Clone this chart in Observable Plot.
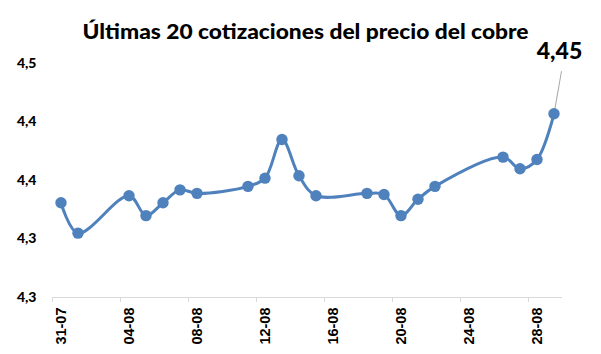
<!DOCTYPE html>
<html>
<head>
<meta charset="utf-8">
<script src="https://cdn.jsdelivr.net/npm/d3@7"></script>
<script src="https://cdn.jsdelivr.net/npm/@observablehq/plot@0.6"></script>
<style>
  html, body { margin: 0; padding: 0; background: #ffffff; }
</style>
</head>
<body>
<div id="chart"></div>
<script>
// Fechas de cotización (dd-mm) y precios
const fechas = ["2025-07-31","2025-08-01","2025-08-04","2025-08-05","2025-08-06","2025-08-07","2025-08-08",
  "2025-08-11","2025-08-12","2025-08-13","2025-08-14","2025-08-15","2025-08-18","2025-08-19","2025-08-20",
  "2025-08-21","2025-08-22","2025-08-26","2025-08-27","2025-08-28","2025-08-29"];
const precios = [4.331, 4.305, 4.337, 4.320, 4.331, 4.342, 4.339,
  4.345, 4.352, 4.385, 4.354, 4.337, 4.339, 4.338, 4.320,
  4.334, 4.345, 4.370, 4.360, 4.368, 4.407];

// Etiquetas de ejes
const etiquetasX = ["2025-07-31","2025-08-04","2025-08-08","2025-08-12","2025-08-16","2025-08-20","2025-08-24","2025-08-28"];
const ticksY = [4.25, 4.30, 4.35, 4.40, 4.45];
const etiquetasY = ["4,3", "4,3", "4,4", "4,4", "4,5"];
const titulo = "Últimas 20 cotizaciones del precio del cobre";
const etiquetaUltimo = "4,45";

const data = fechas.map((f, i) => ({fecha: new Date(f + "T00:00Z"), precio: precios[i]}));
const ultimo = [data[data.length - 1]];
const fechasEtiquetas = etiquetasX.map(d => new Date(d + "T00:00Z"));
const limitesTicks = fechasEtiquetas.map(d => d3.utcHour.offset(d, -12));
const dominioX = [d3.utcHour.offset(data[0].fecha, -12), d3.utcHour.offset(data[data.length - 1].fecha, 12)];
const fmt = d3.utcFormat("%d-%m");

const azul = "#4F81BD";

const chart = Plot.plot({
  width: 601,
  height: 354,
  marginLeft: 52,
  marginRight: 39,
  marginTop: 63,
  marginBottom: 57,
  style: {background: "#ffffff", color: "#000000", fontFamily: "Lato, 'Open Sans', sans-serif"},
  x: {type: "utc", domain: dominioX, label: null},
  y: {domain: [ticksY[0], ticksY[ticksY.length - 1]], label: null},
  marks: [
    Plot.ruleY([ticksY[0]], {stroke: "#d9d9d9", strokeWidth: 1}),
    Plot.axisX(limitesTicks, {tickSize: 5, tickFormat: () => "", stroke: "#d9d9d9", label: null}),
    Plot.axisX(fechasEtiquetas, {
      tickSize: 0, tickPadding: 10, tickRotate: -90, tickFormat: fmt, label: null,
      fontFamily: "'Liberation Sans', Arial, sans-serif", fontWeight: "bold", fontSize: 14.5, fill: "#000000"
    }),
    Plot.axisY(ticksY, {
      tickSize: 0, tickPadding: 16, tickFormat: (d, i) => etiquetasY[i], label: null,
      fontFamily: "Lato, sans-serif", fontWeight: 900, fontSize: 14, fill: "#000000"
    }),
    Plot.line(data, {x: "fecha", y: "precio", stroke: azul, strokeWidth: 3, curve: "catmull-rom"}),
    Plot.vector(ultimo, {
      x: "fecha", y: "precio", length: 43, rotate: 10, anchor: "start",
      stroke: "#a6a6a6", strokeWidth: 1,
      shape: {draw(context, l) { context.moveTo(0, 0); context.lineTo(0, -l); }}
    }),
    Plot.dot(data, {x: "fecha", y: "precio", r: 5.7, fill: azul, stroke: null}),
    Plot.text(ultimo, {
      x: "fecha", y: "precio", text: () => etiquetaUltimo, dx: 5.5, dy: -62.5,
      fontFamily: "Lato, sans-serif", fontWeight: 900, fontSize: 23, fill: "#000000"
    }),
    Plot.text([titulo], {
      frameAnchor: "top", lineAnchor: "middle", dx: -2, dy: -31, text: d => d,
      fontFamily: "Lato, sans-serif", fontWeight: 900, fontSize: 21, fill: "#000000"
    })
  ]
});

document.getElementById("chart").appendChild(chart);
// ajustar el ancho del título al de la referencia
d3.select(chart).selectAll("text").filter(function() { return this.textContent === titulo; })
  .attr("textLength", 446).attr("lengthAdjust", "spacingAndGlyphs");
</script>
</body>
</html>
